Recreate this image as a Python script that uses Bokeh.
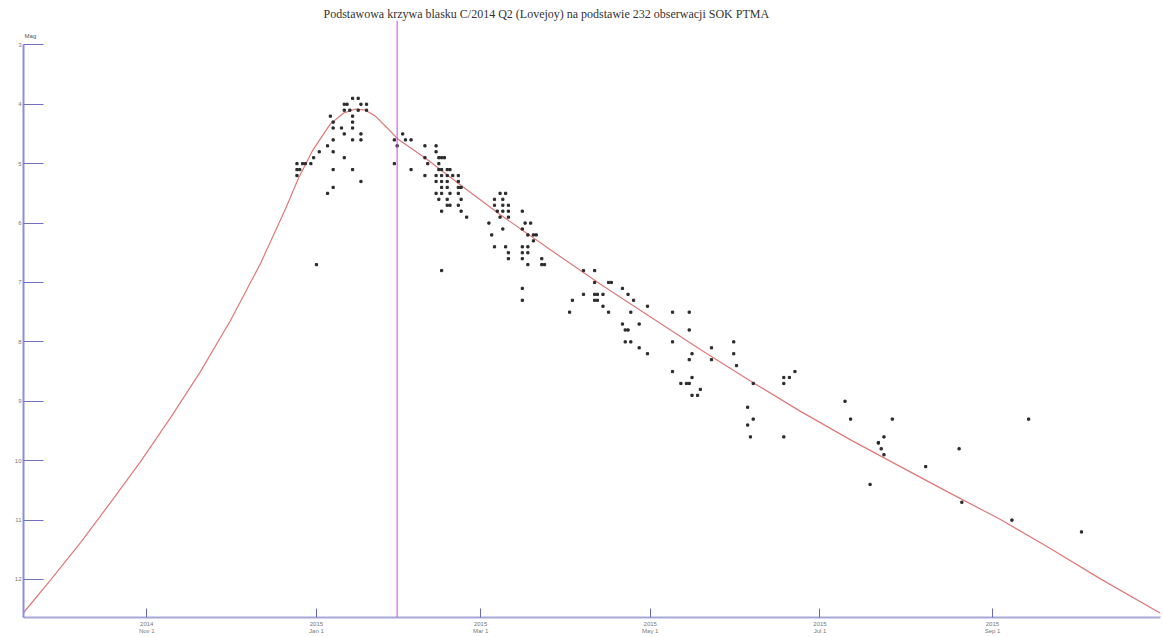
from bokeh.plotting import figure
from bokeh.models import Range1d, FixedTicker, Span, Label
from bokeh.embed import file_html
from bokeh.resources import INLINE

# x values: days since 2015-01-01
tick_days = [-61, 0, 59, 120, 181, 243]
tick_labels = ["2014\nNov 1", "2015\nJan 1", "2015\nMar 1", "2015\nMay 1", "2015\nJul 1", "2015\nSep 1"]
mag_ticks = [3, 4, 5, 6, 7, 8, 9, 10, 11, 12]
perihelion_day = 29

# model light curve
curve_day = [-105.3, -95.6, -84.8, -74.1, -63.3, -52.5, -41.7, -30.9, -20.1, -11.1, -6.5,
             -1.4, 5.0, 9.7, 14.0, 17.6, 21.2, 25.9, 29.1, 39.2, 51.8, 66.1, 84.1, 102.1,
             120.1, 138.0, 156.0, 174.0, 192.0, 209.9, 227.9, 245.9, 263.8, 281.8, 303.4]
curve_mag = [12.56, 12.01, 11.38, 10.71, 10.02, 9.28, 8.50, 7.64, 6.68, 5.76, 5.25,
             4.78, 4.33, 4.15, 4.08, 4.10, 4.20, 4.42, 4.58, 4.91, 5.36, 5.86, 6.45, 7.03,
             7.58, 8.13, 8.66, 9.17, 9.65, 10.10, 10.55, 10.99, 11.48, 11.99, 12.57]

# observations (day since 2015-01-01, magnitude)
obs_day = [-7, -4, -2, -7, 6, 13, -7, -1, 10, 1, 6, 4, 6, 13, 16, 10, 16, 6, 9, 13, 6, 13, 5, 13,
           10, 12, 15, 18, 10, 11, 16, 18, 13, 15, 16, 6, 4, 0, -6, -5,
           28, 29, 28, 31, 32, 34, 34, 39, 39, 39,
           43, 43, 44, 45, 46, 40, 44, 44, 45, 47, 48, 43, 45, 47, 49, 51, 43, 45, 47, 51,
           45, 47, 51, 52, 43, 45, 48, 51, 44, 47, 52, 47, 48, 51, 45, 52, 54, 45,
           66, 68, 64, 67, 64, 67, 69, 65, 67, 69, 74, 66, 69, 62, 75, 77, 67, 74, 63, 76, 78, 79,
           78, 64, 68, 74, 76, 69, 74, 76, 69, 74, 81, 76, 81, 82, 74, 74,
           96, 100, 100, 105, 106, 110, 96, 100, 101, 103, 112, 92, 100, 101, 114, 103, 119,
           91, 105, 113, 128, 134, 110, 116, 111, 112, 134, 111, 113, 128, 116, 142, 119, 135,
           134, 142, 128, 135, 131, 133, 134, 138, 135, 137,
           150, 150, 151, 157, 168, 170, 172, 168, 155, 157, 155, 156, 168, 190, 192,
           204, 202, 203, 204, 202, 207, 199, 219, 231, 232, 250, 256, 275]
obs_mag = [5.0, 5.0, 5.0, 5.1, 5.1, 5.1, 5.2, 4.9, 4.9, 4.8, 4.8, 4.7, 4.6, 4.6, 4.6, 4.5, 4.5,
           4.4, 4.4, 4.4, 4.3, 4.3, 4.2, 4.2, 4.1, 4.1, 4.1, 4.1, 4.0, 4.0, 4.0, 4.0, 3.9, 3.9,
           5.3, 5.4, 5.5, 6.7, 5.1, 5.0,
           4.6, 4.7, 5.0, 4.5, 4.6, 4.6, 5.1, 4.7, 4.9, 5.2,
           4.7, 4.8, 4.9, 4.9, 4.9, 5.0, 5.0, 5.1, 5.1, 5.1, 5.1, 5.2, 5.2, 5.2, 5.2, 5.2, 5.3,
           5.3, 5.3, 5.3, 5.4, 5.4, 5.4, 5.4, 5.5, 5.5, 5.5, 5.5, 5.6, 5.6, 5.6, 5.7, 5.7, 5.7,
           5.8, 5.8, 5.9, 6.8,
           5.5, 5.5, 5.6, 5.6, 5.7, 5.7, 5.7, 5.8, 5.8, 5.8, 5.8, 5.9, 5.9, 6.0, 6.0, 6.0, 6.1,
           6.1, 6.2, 6.2, 6.2, 6.2, 6.3, 6.4, 6.4, 6.4, 6.4, 6.5, 6.5, 6.5, 6.6, 6.6, 6.6, 6.7,
           6.7, 6.7, 7.1, 7.3,
           6.8, 6.8, 7.0, 7.0, 7.0, 7.1, 7.2, 7.2, 7.2, 7.2, 7.2, 7.3, 7.3, 7.3, 7.3, 7.4, 7.4,
           7.5, 7.5, 7.5, 7.5, 7.5, 7.7, 7.7, 7.8, 7.8, 7.8, 8.0, 8.0, 8.0, 8.1, 8.1, 8.2, 8.2,
           8.3, 8.3, 8.5, 8.6, 8.7, 8.7, 8.7, 8.8, 8.9, 8.9,
           8.0, 8.2, 8.4, 8.7, 8.6, 8.6, 8.5, 8.7, 9.1, 9.3, 9.4, 9.6, 9.6, 9.0, 9.3,
           9.6, 9.7, 9.8, 9.9, 9.7, 9.3, 10.4, 10.1, 9.8, 10.7, 11.0, 9.3, 11.2]

TITLE = "Podstawowa krzywa blasku C/2014 Q2 (Lovejoy) na podstawie 232 obserwacji SOK PTMA"

p = figure(width=1163, height=637, output_backend="svg", toolbar_location=None,
           x_range=Range1d(-105.3, 303.4), y_range=Range1d(12.64, 2.59),
           min_border_left=23, min_border_right=3, min_border_top=20, min_border_bottom=20,
           background_fill_color="white", border_fill_color="white")
p.outline_line_color = None
p.grid.visible = False

p.title.text = TITLE
p.title.align = "left"
p.title.offset = 300
p.title.text_font = "Liberation Serif"
p.title.text_font_size = "12px"
p.title.text_font_style = "normal"
p.title.text_color = "#333333"
p.title.standoff = 0

# axes
xa = p.xaxis[0]
xa.ticker = FixedTicker(ticks=tick_days)
xa.major_label_overrides = {d: lab for d, lab in zip(tick_days, tick_labels)}
xa.axis_line_color = "#a8a8d8"
xa.axis_line_width = 2
xa.major_tick_in = 9
xa.major_tick_out = 0
xa.major_tick_line_color = "#6868b8"
xa.minor_tick_line_color = None
xa.major_label_text_font_size = "6px"
xa.major_label_text_color = "#777777"
xa.major_label_standoff = 3

ya = p.yaxis[0]
ya.ticker = FixedTicker(ticks=mag_ticks)
ya.bounds = (3, 12.64)
ya.axis_line_color = "#8c8ce6"
ya.axis_line_width = 2
ya.major_tick_in = 20
ya.major_tick_out = 0
ya.major_tick_line_color = "#7070c8"
ya.minor_tick_line_color = None
ya.major_label_text_font_size = "6px"
ya.major_label_text_color = "#777777"
ya.major_label_standoff = 2

p.add_layout(Label(x=-104.9, y=2.85, text="Mag", text_font_size="6px",
                   text_color="#555555", text_baseline="middle"))

# perihelion line
p.add_layout(Span(location=perihelion_day, dimension="height",
                  line_color="#c844e8", line_width=1))

# model curve
p.line(curve_day, curve_mag, line_color="#e07878", line_width=1.2)

# observations
p.scatter(obs_day, obs_mag, marker="square", size=2.2, color="#2a2a2a")

open("out.html", "w").write(file_html(p, INLINE))
